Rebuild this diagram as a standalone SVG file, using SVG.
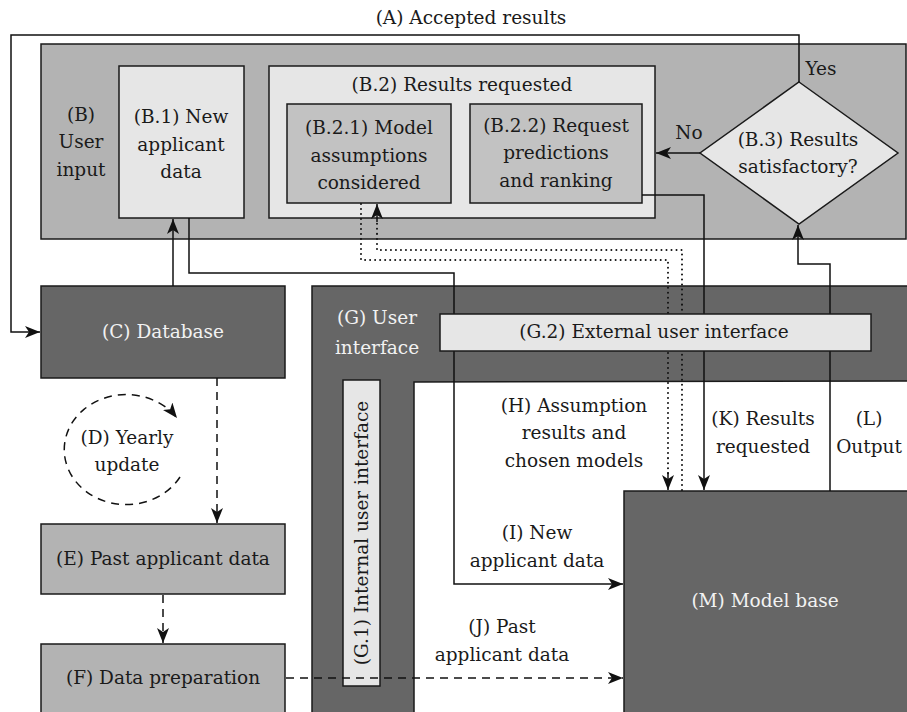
<svg xmlns="http://www.w3.org/2000/svg" width="907" height="712" viewBox="0 0 907 712">
<style>
text{font-family:"DejaVu Serif","Liberation Serif",serif;font-size:18.5px;fill:#1a1a1a;text-anchor:middle}
.w{fill:#f2f2f2}
.box{stroke:#1a1a1a;stroke-width:1.5}
.dark{fill:#666666}
.mid{fill:#b3b3b3}
.lt{fill:#e6e6e6}
.ml{fill:#c2c2c2}
.c{fill:none;stroke:#111;stroke-width:1.5}
.dash{stroke-dasharray:8 6}
.dot{stroke-width:2;stroke-dasharray:0.01 5;stroke-linecap:round}
</style>
<defs>
<marker id="ah" markerUnits="userSpaceOnUse" markerWidth="17" markerHeight="14" refX="15" refY="6" orient="auto">
<path d="M0,0 L15,6 L0,12 L4,6 z" fill="#111"/>
</marker>
</defs>
<rect width="907" height="712" fill="#ffffff"/>
<g id="B">
<rect class="box mid" x="41" y="44" width="865" height="195"/>
<text x="81" y="121">(B)</text>
<text x="81" y="148">User</text>
<text x="81" y="176">input</text>
</g>
<g id="B1">
<rect class="box lt" x="119" y="66" width="125" height="152"/>
<text x="181" y="123">(B.1) New</text>
<text x="181" y="151">applicant</text>
<text x="181" y="178">data</text>
</g>
<g id="B2">
<rect class="box lt" x="269" y="66" width="386" height="152"/>
<text x="462" y="91">(B.2) Results requested</text>
</g>
<g id="B21">
<rect class="box ml" x="287" y="104" width="164" height="99"/>
<text x="369" y="134">(B.2.1) Model</text>
<text x="369" y="162">assumptions</text>
<text x="369" y="189">considered</text>
</g>
<g id="B22">
<rect class="box ml" x="470" y="104" width="172" height="99"/>
<text x="556" y="132">(B.2.2) Request</text>
<text x="556" y="159">predictions</text>
<text x="556" y="187">and ranking</text>
</g>
<g id="B3">
<polygon class="box lt" points="799,82 898,153 799,224 700,153"/>
<text x="798" y="146">(B.3) Results</text>
<text x="798" y="173">satisfactory?</text>
</g>
<g id="C">
<rect class="box dark" x="41" y="286" width="244" height="92"/>
<text class="w" x="163" y="338">(C) Database</text>
</g>
<g id="E">
<rect class="box mid" x="41" y="524" width="244" height="70"/>
<text x="163" y="565">(E) Past applicant data</text>
</g>
<g id="F">
<rect class="box mid" x="41" y="644" width="244" height="80"/>
<text x="163" y="684">(F) Data preparation</text>
</g>
<g id="G">
<path class="box dark" d="M312,286 H908 V381 L414,382 V720 H312 Z"/>
<text class="w" x="377" y="324">(G) User</text>
<text class="w" x="377" y="354">interface</text>
</g>
<g id="G1">
<rect class="box lt" x="343" y="380" width="37" height="306"/>
<text transform="translate(368,533) rotate(-90)" x="0" y="0">(G.1) Internal user interface</text>
</g>
<g id="M">
<rect class="box dark" x="624" y="491" width="290" height="230"/>
<text class="w" x="765" y="607">(M) Model base</text>
</g>
<g id="D">
<path class="c dash" d="M180,477 A62,55 0 1 1 177,418" marker-end="url(#ah)"/>
<text x="127" y="444">(D) Yearly</text>
<text x="127" y="471">update</text>
</g>
<g id="connectors">
<path class="c" d="M799,82 V35 H11 V332 H40" marker-end="url(#ah)"/>
<path class="c" d="M173,286 V219" marker-end="url(#ah)"/>
<path class="c" d="M189,218 V273 H454 V584 H623" marker-end="url(#ah)"/>
<path class="c dot" d="M682,490 V250 H377 V220"/>
<path class="c" d="M377,222 V204" marker-end="url(#ah)"/>
<path class="c dot" d="M361,204 V260 H668 V474"/>
<path class="c" d="M668,472 V490" marker-end="url(#ah)"/>
<path class="c" d="M642,195 H704 V490" marker-end="url(#ah)"/>
<path class="c" d="M830,491 V264 H798 V225" marker-end="url(#ah)"/>
<path class="c" d="M700,153 H656" marker-end="url(#ah)"/>
<path class="c dash" d="M217,378 V523" marker-end="url(#ah)"/>
<path class="c dash" d="M163,595 V643" marker-end="url(#ah)"/>
<path class="c dash" d="M286,678 H623" marker-end="url(#ah)"/>
<text x="471" y="24">(A) Accepted results</text>
<text x="821" y="75">Yes</text>
<text x="689" y="139">No</text>
<text x="574" y="412">(H) Assumption</text>
<text x="574" y="439">results and</text>
<text x="574" y="467">chosen models</text>
<text x="763" y="425">(K) Results</text>
<text x="763" y="453">requested</text>
<text x="869" y="425">(L)</text>
<text x="869" y="453">Output</text>
<text x="537" y="539">(I) New</text>
<text x="537" y="567">applicant data</text>
<text x="502" y="633">(J) Past</text>
<text x="502" y="661">applicant data</text>
</g>
<g id="G2">
<rect class="box lt" x="440" y="314" width="431" height="37"/>
<text x="654" y="338">(G.2) External user interface</text>
</g>
</svg>
